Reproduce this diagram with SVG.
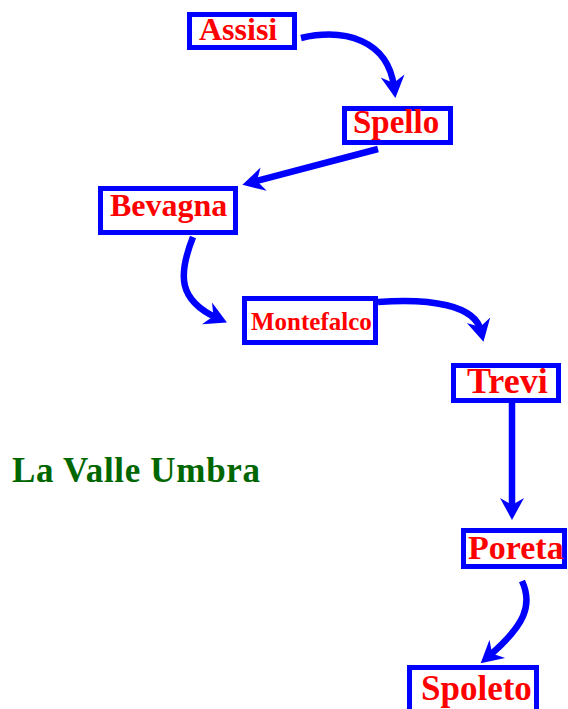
<svg xmlns="http://www.w3.org/2000/svg" width="568" height="709" viewBox="0 0 568 709">
<style>
.box{fill:#ffffff;stroke:#0000ff;stroke-width:5}
.lbl{fill:#ff0000;font-family:"Liberation Serif","Times New Roman",serif;font-weight:bold}
.title{fill:#006600;font-family:"Liberation Serif","Times New Roman",serif;font-weight:bold}
.edge{fill:none;stroke:#0000ff;stroke-width:6.5}
</style>
<defs>
<marker id="arr" markerUnits="userSpaceOnUse" markerWidth="34" markerHeight="34" refX="12" refY="14" orient="auto">
<path d="M23,14 L1,2 L8,14 L1,26 Z" fill="#0000ff"/>
</marker>
</defs>
<rect width="568" height="709" fill="#ffffff"/>
<g id="connectors">
<path class="edge" d="M301,38 C345,28 388,40 394,87" marker-end="url(#arr)"/>
<path class="edge" d="M378,149 L253,182" marker-end="url(#arr)"/>
<path class="edge" d="M193,237 C178,275 178,300 217,318" marker-end="url(#arr)"/>
<path class="edge" d="M378,302 C430,298 475,305 481,331" marker-end="url(#arr)"/>
<path class="edge" d="M512,403 L512,509" marker-end="url(#arr)"/>
<path class="edge" d="M522,581 C533,605 525,625 489,656" marker-end="url(#arr)"/>
</g>
<g id="assisi"><rect class="box" x="189.5" y="14.5" width="105" height="33"/><text class="lbl" x="199" y="40" font-size="32">Assisi</text></g>
<g id="spello"><rect class="box" x="344.5" y="108.5" width="106" height="34"/><text class="lbl" x="353" y="133" font-size="33">Spello</text></g>
<g id="bevagna"><rect class="box" x="100.5" y="188.5" width="135" height="44"/><text class="lbl" x="110" y="216" font-size="32">Bevagna</text></g>
<g id="montefalco"><rect class="box" x="244.5" y="298.5" width="131" height="44"/><text class="lbl" x="251" y="330" font-size="25">Montefalco</text></g>
<g id="trevi"><rect class="box" x="453.5" y="365.5" width="105" height="35"/><text class="lbl" x="467" y="393" font-size="36">Trevi</text></g>
<g id="poreta"><rect class="box" x="463.5" y="530.5" width="101" height="36"/><text class="lbl" x="468" y="559" font-size="34">Poreta</text></g>
<g id="spoleto"><rect class="box" x="409.5" y="667.5" width="127" height="45"/><text class="lbl" x="421" y="700" font-size="35">Spoleto</text></g>
<g id="title"><text class="title" x="12" y="482" font-size="35" textLength="248" lengthAdjust="spacing">La Valle Umbra</text></g>
</svg>
